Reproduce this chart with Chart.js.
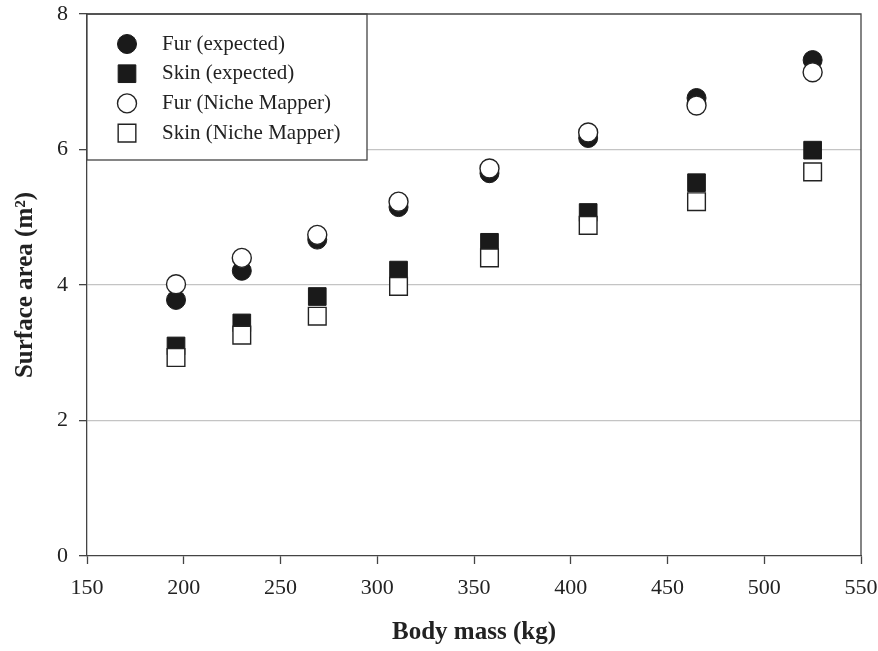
<!DOCTYPE html>
<html>
<head>
<meta charset="utf-8">
<script src="https://cdn.jsdelivr.net/npm/chart.js@4.4.0/dist/chart.umd.min.js"></script>
<style>
html, body { margin: 0; padding: 0; background: #fff; }
#wrap { width: 878px; height: 651px; }
</style>
</head>
<body>
<div id="wrap"><canvas id="chart" width="878" height="651"></canvas></div>
<script>
var bodyMass = [196, 230, 269, 311, 358, 409, 465, 525];
var furExpected = [3.78, 4.21, 4.67, 5.15, 5.65, 6.17, 6.76, 7.32];
var skinExpected = [3.10, 3.44, 3.83, 4.22, 4.63, 5.07, 5.51, 5.99];
var furNicheMapper = [4.01, 4.40, 4.74, 5.23, 5.72, 6.25, 6.65, 7.14];
var skinNicheMapper = [2.93, 3.26, 3.54, 3.98, 4.40, 4.88, 5.23, 5.67];
var xTicks = [150, 200, 250, 300, 350, 400, 450, 500, 550];
var yTicks = [0, 2, 4, 6, 8];

var serif = "'Liberation Serif', 'Times New Roman', serif";

function toPoints(values) {
    return bodyMass.map(function(x, i) { return { x: x, y: values[i] }; });
}

// legend box in the top left corner of the plot + top/right frame
var legendBox = {
    id: 'legendBox',
    afterDatasetsDraw: function(chart) {
        var ctx = chart.ctx;
        var area = chart.chartArea;
        var left = area.left, top = area.top;
        ctx.save();
        ctx.fillStyle = '#fff';
        ctx.fillRect(left, top, 280, 146);
        ctx.strokeStyle = '#444';
        ctx.lineWidth = 1.3;
        ctx.strokeRect(left, top, 280, 146);
        ctx.font = '21px ' + serif;
        ctx.textBaseline = 'middle';
        chart.data.datasets.forEach(function(ds, i) {
            var y = top + 30 + i * 29.7;
            ctx.fillStyle = ds.backgroundColor;
            ctx.strokeStyle = ds.borderColor;
            ctx.lineWidth = ds.borderWidth;
            Chart.helpers.drawPoint(ctx, { pointStyle: ds.pointStyle, radius: ds.pointRadius, borderWidth: ds.borderWidth }, left + 40, y);
            ctx.fillStyle = '#222';
            ctx.fillText(ds.label, left + 75, y);
        });
        // frame
        ctx.strokeStyle = '#444';
        ctx.lineWidth = 1.3;
        ctx.beginPath();
        ctx.moveTo(area.left, area.top);
        ctx.lineTo(area.right, area.top);
        ctx.lineTo(area.right, area.bottom);
        ctx.stroke();
        ctx.restore();
    }
};

var data = {
    datasets: [
        { label: 'Fur (expected)', data: toPoints(furExpected), pointStyle: 'circle', pointRadius: 9.5,
          backgroundColor: '#1a1a1a', borderColor: '#1a1a1a', borderWidth: 1, order: 2 },
        { label: 'Skin (expected)', data: toPoints(skinExpected), pointStyle: 'rect', pointRadius: 12.5,
          backgroundColor: '#1a1a1a', borderColor: '#1a1a1a', borderWidth: 1, order: 2 },
        { label: 'Fur (Niche Mapper)', data: toPoints(furNicheMapper), pointStyle: 'circle', pointRadius: 9.5,
          backgroundColor: '#fff', borderColor: '#222', borderWidth: 1.4, order: 1 },
        { label: 'Skin (Niche Mapper)', data: toPoints(skinNicheMapper), pointStyle: 'rect', pointRadius: 12.5,
          backgroundColor: '#fff', borderColor: '#222', borderWidth: 1.4, order: 1 }
    ]
};

new Chart(document.getElementById('chart'), {
    type: 'scatter',
    data: data,
    plugins: [legendBox],
    options: {
        responsive: false,
        animation: false,
        layout: { padding: { top: 14, right: 17, left: 0, bottom: 0 } },
        plugins: { legend: { display: false }, tooltip: { enabled: false } },
        scales: {
            x: {
                type: 'linear', min: 150, max: 550,
                afterBuildTicks: function(axis) { axis.ticks = xTicks.map(function(v) { return { value: v }; }); },
                afterFit: function(axis) { axis.height = 95; axis.paddingLeft = 0; axis.paddingRight = 0; },
                grid: { drawOnChartArea: false, drawTicks: true, tickLength: 8, tickColor: '#444', tickWidth: 1.3 },
                border: { display: true, color: '#444', width: 1.3 },
                ticks: { color: '#222', font: { family: serif, size: 22 }, padding: 11, maxRotation: 0 },
                title: { display: true, text: 'Body mass (kg)', color: '#222',
                         font: { family: serif, size: 25, weight: 'bold' }, padding: { top: 0, bottom: 3 } }
            },
            y: {
                type: 'linear', min: 0, max: 8,
                afterBuildTicks: function(axis) { axis.ticks = yTicks.map(function(v) { return { value: v }; }); },
                afterFit: function(axis) { axis.width = 87; axis.paddingTop = 0; axis.paddingBottom = 0; },
                grid: {
                    color: function(c) { return (c.tick && c.tick.value > 0 && c.tick.value < 8) ? '#c4c4c4' : 'rgba(0,0,0,0)'; },
                    lineWidth: 1.3, drawTicks: true, tickLength: 8, tickColor: '#444', tickWidth: 1.3
                },
                border: { display: true, color: '#444', width: 1.3 },
                ticks: { color: '#222', font: { family: serif, size: 22 }, padding: 11 },
                title: { display: true, text: 'Surface area (m²)', color: '#222',
                         font: { family: serif, size: 25, weight: 'bold' }, padding: { top: 11, bottom: 0 } }
            }
        }
    }
});
</script>
</body>
</html>
